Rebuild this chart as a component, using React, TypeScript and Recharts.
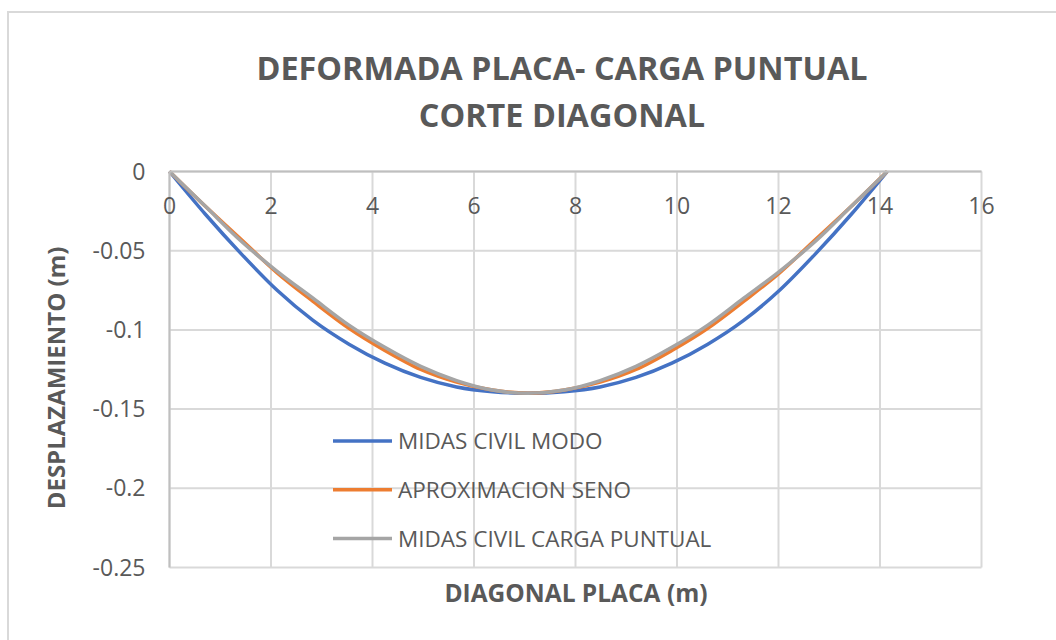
import { LineChart, Line, XAxis, YAxis, CartesianGrid, Legend } from "recharts";

// distancia a lo largo de la diagonal de la placa (m)
const DIAGONAL = [
  0, 0.707, 1.414, 2.121, 2.828, 3.536, 4.243, 4.95, 5.657, 6.364, 7.071,
  7.778, 8.485, 9.192, 9.899, 10.607, 11.314, 12.021, 12.728, 13.435, 14.142,
];

const MIDAS_MODO = [
  0, -0.027, -0.052, -0.075, -0.094, -0.109, -0.121, -0.13, -0.136, -0.139, -0.14,
  -0.139, -0.136, -0.13, -0.121, -0.109, -0.094, -0.075, -0.052, -0.027, 0,
];

const APROX_SENO = [
  0, -0.022, -0.043, -0.064, -0.082, -0.099, -0.113, -0.125, -0.133, -0.138, -0.14,
  -0.138, -0.133, -0.125, -0.113, -0.099, -0.082, -0.064, -0.043, -0.022, 0,
];

const MIDAS_PUNTUAL = [
  0, -0.022, -0.044, -0.063, -0.08, -0.097, -0.111, -0.123, -0.132, -0.138, -0.14,
  -0.138, -0.132, -0.123, -0.111, -0.097, -0.08, -0.063, -0.044, -0.022, 0,
];

const X_TICKS = [0, 2, 4, 6, 8, 10, 12, 14, 16];
const Y_TICKS = [0, -0.05, -0.1, -0.15, -0.2, -0.25];

const FONT = "'Open Sans', sans-serif";
const TEXT = "#595959";

const SERIES = [
  { key: "modo", name: "MIDAS CIVIL MODO", color: "#4472C4" },
  { key: "seno", name: "APROXIMACION SENO", color: "#ED7D31" },
  { key: "puntual", name: "MIDAS CIVIL CARGA PUNTUAL", color: "#A5A5A5" },
];

const data = DIAGONAL.map((x, i) => ({
  x,
  modo: MIDAS_MODO[i],
  seno: APROX_SENO[i],
  puntual: MIDAS_PUNTUAL[i],
}));

function LegendBox({ payload }: { payload?: any[] }) {
  // keep the series order, recharts sorts legend items by name
  const order = SERIES.map((s) => s.name);
  const rows = [...(payload ?? [])].sort((a, b) => order.indexOf(a.value) - order.indexOf(b.value));
  return (
    <svg width={420} height={150} style={{ overflow: "visible" }}>
      {rows.map((p, i) => (
        <g key={p.value}>
          <line x1={0} x2={59} y1={21 + i * 48.7} y2={21 + i * 48.7} stroke={p.color} strokeWidth={3.5} />
          <text
            x={65}
            y={21 + i * 48.7}
            dy="0.36em"
            fontFamily={FONT}
            fontSize={22.5}
            fill={TEXT}
          >
            {p.value}
          </text>
        </g>
      ))}
    </svg>
  );
}

export default function App() {
  return (
    <div
      style={{
        position: "absolute",
        left: 0,
        top: 0,
        width: 1056,
        height: 640,
        background: "#fff",
        overflow: "hidden",
        fontFamily: FONT,
      }}
    >
      <div
        style={{
          position: "absolute",
          left: 7,
          top: 11,
          width: 1100,
          height: 700,
          border: "2px solid #d9d9d9",
        }}
      />
      <div style={{ position: "absolute", left: 0, top: 0 }}>
        <LineChart
          width={1056}
          height={640}
          data={data}
          margin={{ top: 171.5, right: 74.5, bottom: 72.5, left: 69.5 }}
        >
          <CartesianGrid stroke="#d9d9d9" strokeWidth={2} />
          <XAxis
            dataKey="x"
            type="number"
            domain={[0, 16]}
            ticks={X_TICKS}
            orientation="top"
            mirror
            height={30}
            tickLine={false}
            tickSize={0}
            tickMargin={26}
            axisLine={{ stroke: "#bfbfbf", strokeWidth: 2 }}
            tick={{ fill: TEXT, fontSize: 23, fontFamily: FONT }}
          />
          <YAxis
            type="number"
            domain={[-0.25, 0]}
            ticks={Y_TICKS}
            width={100}
            tickLine={false}
            tickSize={0}
            tickMargin={24}
            axisLine={{ stroke: "#bfbfbf", strokeWidth: 2 }}
            tick={{ fill: TEXT, fontSize: 23, fontFamily: FONT }}
          />
          <Legend
            layout="horizontal"
            verticalAlign="middle"
            align="center"
            content={LegendBox as any}
            wrapperStyle={{ left: 333, top: 420, width: 420, height: 150 }}
          />
          {SERIES.map((s) => (
            <Line
              key={s.key}
              type="monotone"
              dataKey={s.key}
              name={s.name}
              stroke={s.color}
              strokeWidth={3.5}
              dot={false}
              isAnimationActive={false}
            />
          ))}
        </LineChart>
      </div>
      <svg
        width={1056}
        height={640}
        style={{ position: "absolute", left: 0, top: 0, pointerEvents: "none" }}
      >
        <text x={562} y={79.5} textAnchor="middle" fontFamily={FONT} fontWeight={700} fontSize={32.4} fill={TEXT}>
          DEFORMADA PLACA- CARGA PUNTUAL
        </text>
        <text x={562} y={127} textAnchor="middle" fontFamily={FONT} fontWeight={700} fontSize={32.4} fill={TEXT}>
          CORTE DIAGONAL
        </text>
        <text x={576} y={601.5} textAnchor="middle" fontFamily={FONT} fontWeight={700} fontSize={24.5} fill={TEXT}>
          DIAGONAL PLACA (m)
        </text>
        <text
          x={65}
          y={378}
          transform="rotate(-90, 65, 378)"
          textAnchor="middle"
          fontFamily={FONT}
          fontWeight={700}
          fontSize={24}
          fill={TEXT}
        >
          DESPLAZAMIENTO (m)
        </text>
      </svg>
    </div>
  );
}
